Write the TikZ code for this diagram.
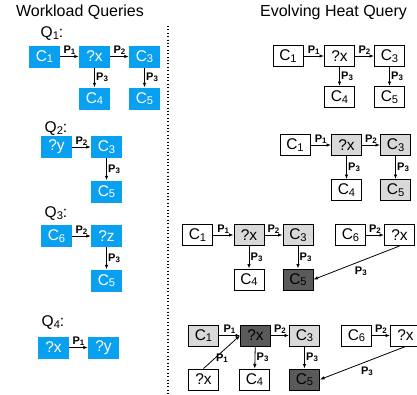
\documentclass[tikz,border=0pt]{standalone}
\usepackage{fontspec}
\usepackage{graphicx}
\setmainfont{Liberation Sans}
\usetikzlibrary{arrows.meta}
\definecolor{qblue}{HTML}{0AA0F0}
\definecolor{lgray}{HTML}{D9D9D9}
\definecolor{dgray}{HTML}{5A5A5A}
\newcommand{\dsub}[1]{\raisebox{-0.1em}{\scalebox{0.72}{#1}}}
\begin{document}
\begin{tikzpicture}[x=1pt,y=-1pt,
  qbox/.style={fill=qblue, text=white, minimum width=31pt, minimum height=22pt, inner sep=0pt, font=\fontsize{15.5}{15.5}\selectfont},
  hbox/.style={draw=black, line width=1pt, fill=white, minimum width=30pt, minimum height=21pt, inner sep=0pt, font=\fontsize{15.5}{15.5}\selectfont},
  warm/.style={hbox, fill=lgray},
  hot/.style={hbox, fill=dgray},
  arr/.style={-{Latex[length=4.5pt,width=3.5pt]}, line width=0.8pt},
  elab/.style={font=\bfseries\fontsize{11}{11}\selectfont, inner sep=1.3pt},
  qlab/.style={font=\fontsize{15.5}{15.5}\selectfont, inner sep=0pt},
  titlelab/.style={font=\fontsize{16}{16}\selectfont, inner sep=0pt}
]
\useasboundingbox (0,0) rectangle (417,394);
% titles
\node[titlelab] (tl) at (80,12) {Workload Queries};
\node[titlelab] (tr) at (333.5,12) {Evolving Heat Query};
% separator
\coordinate (sepa) at (168,26);
\coordinate (sepb) at (168,394);
\draw[line width=1.2pt, dash pattern=on 1pt off 2.4pt] (sepa) -- (sepb);

% ---------- left: workload queries ----------
\node[qlab] (q1) at (52,34) {Q\dsub{1}:};
\node[qbox] (l1c1) at (44.5,56.5) {C\dsub{1}};
\node[qbox] (l1x)  at (94.5,56.5) {?x};
\node[qbox] (l1c3) at (144.5,56.5) {C\dsub{3}};
\node[qbox] (l1c4) at (94.5,98.5) {C\dsub{4}};
\node[qbox] (l1c5) at (144.5,98.5) {C\dsub{5}};
\draw[arr] (l1c1) -- node[elab,above] {P\dsub{1}} (l1x);
\draw[arr] (l1x) -- node[elab,above] {P\dsub{2}} (l1c3);
\draw[arr] (l1x) -- node[elab,right] {P\dsub{3}} (l1c4);
\draw[arr] (l1c3) -- node[elab,right] {P\dsub{3}} (l1c5);

\node[qlab] (q2) at (56,129) {Q\dsub{2}:};
\node[qbox] (l2y)  at (56.5,147) {?y};
\node[qbox] (l2c3) at (106.5,147) {C\dsub{3}};
\node[qbox] (l2c5) at (106.5,191.5) {C\dsub{5}};
\draw[arr] (l2y) -- node[elab,above] {P\dsub{2}} (l2c3);
\draw[arr] (l2c3) -- node[elab,right] {P\dsub{3}} (l2c5);

\node[qlab] (q3) at (56,214) {Q\dsub{3}:};
\node[qbox] (l3c6) at (56.5,236) {C\dsub{6}};
\node[qbox] (l3z)  at (106.5,236) {?z};
\node[qbox] (l3c5) at (106.5,280.5) {C\dsub{5}};
\draw[arr] (l3c6) -- node[elab,above] {P\dsub{2}} (l3z);
\draw[arr] (l3z) -- node[elab,right] {P\dsub{3}} (l3c5);

\node[qlab] (q4) at (53,323) {Q\dsub{4}:};
\node[qbox] (l4x) at (53.5,347.5) {?x};
\node[qbox] (l4y) at (103.5,347.5) {?y};
\draw[arr] (l4x) -- node[elab,above] {P\dsub{1}} (l4y);

% ---------- right: evolving heat query ----------
% panel 1
\node[hbox] (a1) at (288,56) {C\dsub{1}};
\node[hbox] (ax) at (339.5,56) {?x};
\node[hbox] (a3) at (389.5,56) {C\dsub{3}};
\node[hbox] (a4) at (339.5,97) {C\dsub{4}};
\node[hbox] (a5) at (389.5,97) {C\dsub{5}};
\draw[arr] (a1) -- node[elab,above] {P\dsub{1}} (ax);
\draw[arr] (ax) -- node[elab,above] {P\dsub{2}} (a3);
\draw[arr] (ax) -- node[elab,right] {P\dsub{3}} (a4);
\draw[arr] (a3) -- node[elab,right] {P\dsub{3}} (a5);

% panel 2
\node[hbox] (b1) at (295,145) {C\dsub{1}};
\node[warm] (bx) at (346.5,145) {?x};
\node[warm] (b3) at (395.5,145) {C\dsub{3}};
\node[hbox] (b4) at (346.5,190) {C\dsub{4}};
\node[warm] (b5) at (395.5,190) {C\dsub{5}};
\draw[arr] (b1) -- node[elab,above] {P\dsub{1}} (bx);
\draw[arr] (bx) -- node[elab,above] {P\dsub{2}} (b3);
\draw[arr] (bx) -- node[elab,right] {P\dsub{3}} (b4);
\draw[arr] (b3) -- node[elab,right] {P\dsub{3}} (b5);

% panel 3
\node[hbox] (c1) at (197.5,235) {C\dsub{1}};
\node[warm] (cx) at (249,235) {?x};
\node[warm] (c3) at (298,235) {C\dsub{3}};
\node[hbox] (c4) at (249,279.5) {C\dsub{4}};
\node[hot]  (c5) at (298,279.5) {C\dsub{5}};
\node[hbox] (c6) at (350.5,235) {C\dsub{6}};
\node[hbox] (cy) at (399.5,235) {?x};
\draw[arr] (c1) -- node[elab,above] {P\dsub{1}} (cx);
\draw[arr] (cx) -- node[elab,above] {P\dsub{2}} (c3);
\draw[arr] (cx) -- node[elab,right] {P\dsub{3}} (c4);
\draw[arr] (c3) -- node[elab,right] {P\dsub{3}} (c5);
\draw[arr] (c6) -- node[elab,above] {P\dsub{2}} (cy);
\draw[arr] (cy.south) -- node[elab,below=4pt,pos=0.45] {P\dsub{3}} (c5.east);

% panel 4
\node[warm] (d1) at (203.5,335.5) {C\dsub{1}};
\node[hot]  (dx) at (255.5,335.5) {?x};
\node[warm] (d3) at (304.5,335.5) {C\dsub{3}};
\node[hbox] (dq) at (203.5,379.5) {?x};
\node[hbox] (d4) at (254.5,379.5) {C\dsub{4}};
\node[hot]  (d5) at (304.5,379.5) {C\dsub{5}};
\node[hbox] (d6) at (356.5,335.5) {C\dsub{6}};
\node[hbox] (dy) at (405.5,335.5) {?x};
\draw[arr] (d1) -- node[elab,above] {P\dsub{1}} (dx);
\draw[arr] (dq.north) -- node[elab,right,pos=0.3] {P\dsub{1}} (dx.west);
\draw[arr] (dx) -- node[elab,above] {P\dsub{2}} (d3);
\draw[arr] (dx) -- node[elab,right] {P\dsub{3}} (d4);
\draw[arr] (d3) -- node[elab,right] {P\dsub{3}} (d5);
\draw[arr] (d6) -- node[elab,above] {P\dsub{2}} (dy);
\draw[arr] (dy.south) -- node[elab,below=4pt,pos=0.45] {P\dsub{3}} (d5.east);
\end{tikzpicture}
\end{document}
